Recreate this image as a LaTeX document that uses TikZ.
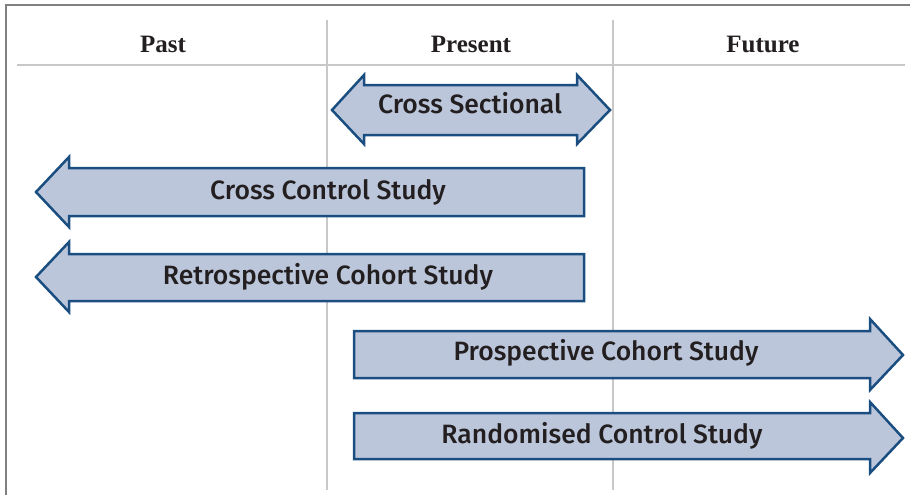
\documentclass[tikz,border=0pt]{standalone}
\usepackage{fontspec}
\setmainfont{Liberation Serif}
\newfontfamily\studyfont{Fira Sans Medium}
\usetikzlibrary{positioning}

\definecolor{framegray}{HTML}{808080}
\definecolor{gridgray}{HTML}{C8C8C8}
\definecolor{arrowblue}{HTML}{1B4E80}
\definecolor{arrowfill}{HTML}{BCC6DB}
\definecolor{inktext}{HTML}{231F20}

\begin{document}
\begin{tikzpicture}[x=1pt, y=-1pt,
    frameline/.style={draw=framegray, line width=1.5pt},
    gridline/.style={draw=gridgray, line width=2pt},
    studyarrow/.style={draw=arrowblue, fill=arrowfill, line width=2.5pt, line join=miter},
    studylabel/.style={font=\studyfont\fontsize{26.5}{30}\selectfont, text=inktext,
        text height=0.69em, text depth=0pt, inner sep=0pt},
    period/.style={font=\bfseries\fontsize{25}{30}\selectfont, text=inktext}]

    \useasboundingbox (0,0) rectangle (910,495);

    % frame
    \draw[frameline] (6,495) -- (6,5) -- (910,5);

    % time columns
    \draw[gridline] (17,65) -- (905,65);
    \draw[gridline] (327,20) -- (327,490);
    \draw[gridline] (613,20) -- (613,490);

    % headings
    \node[period] (past) at (163,44) {Past};
    \node[period] (present) at (471,44) {Present};
    \node[period] (future) at (763,44) {Future};

    % cross sectional: both ways
    \draw[studyarrow] (332,110) -- (364,75) -- (364,85) -- (577,85) -- (577,75)
        -- (610,110) -- (577,144) -- (577,135) -- (364,135) -- (364,144) -- cycle;
    \node[studylabel] (cross) at (470,110) {Cross Sectional};

    % looking back
    \draw[studyarrow] (36,192) -- (69,157) -- (69,168) -- (584,168) -- (584,216)
        -- (69,216) -- (69,227) -- cycle;
    \node[studylabel] (control) at (328,196) {Cross Control Study};

    \draw[studyarrow] (36,277) -- (69,242) -- (69,254) -- (584,254) -- (584,301)
        -- (69,301) -- (69,312) -- cycle;
    \node[studylabel] (retro) at (328,281) {Retrospective Cohort Study};

    % looking forward
    \draw[studyarrow] (354,331) -- (870,331) -- (870,319) -- (903,355) -- (870,390)
        -- (870,378) -- (354,378) -- cycle;
    \node[studylabel] (prosp) at (606,357) {Prospective Cohort Study};

    \draw[studyarrow] (354,413) -- (870,413) -- (870,402) -- (903,438) -- (870,473)
        -- (870,459) -- (354,459) -- cycle;
    \node[studylabel] (rct) at (602,440) {Randomised Control Study};
\end{tikzpicture}
\end{document}
